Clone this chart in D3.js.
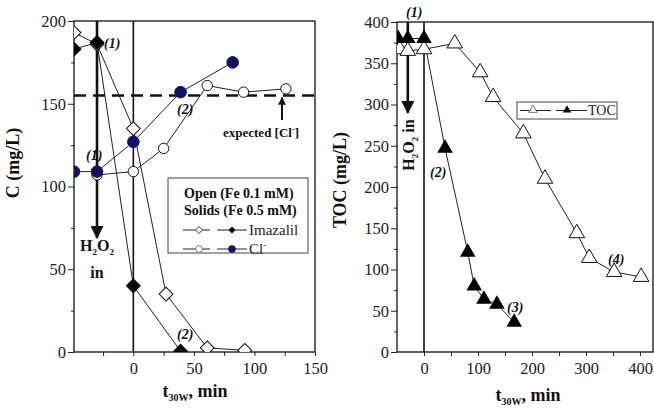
<!DOCTYPE html>
<html>
<head>
<meta charset="utf-8">
<script src="https://cdn.jsdelivr.net/npm/d3@7"></script>
<style>
  body { margin: 0; background: #fff; }
  svg text { font-family: "Liberation Serif", "Times New Roman", serif !important; }
  .tick text { font-size: 16.5px; fill: #222; }
  .data-line { fill: none; stroke: #222; stroke-width: 1; }
  .note { font-size: 14px; font-weight: bold; font-style: italic; fill: #111; }
  .lbl { font-weight: bold; fill: #111; }
</style>
</head>
<body>
<svg id="chart" width="654" height="409"></svg>
<script>
// ---- left panel: imazalil and chloride ----
const openImzT = [-49, -30, 0, 27, 61, 92];
const openImzC = [193, 186, 135, 35, 2.5, 1];
const solidImzT = [-49, -30, 0, 39];
const solidImzC = [183, 187, 40, 0.5];
const openClT = [-30, 0, 25, 61, 91, 126];
const openClC = [107, 109, 123, 161, 157, 159];
const solidClT = [-49, -30, 0, 39, 82];
const solidClC = [109, 109, 127, 157, 175];
const expectedCl = 155;
const leftYTicks = [0, 25, 50, 75, 100, 125, 150, 175, 200];
const leftXTicks = [-25, 0, 25, 50, 75, 100, 125, 150];

// ---- right panel: TOC ----
const openTocT = [-45, -30, 0, 57, 104, 128, 184, 224, 283, 306, 352, 402];
const openTocV = [367, 365, 367, 374, 339, 309, 265, 210, 144, 114, 97, 91];
const solidTocT = [-48, -30, 0, 39, 81, 93, 111, 135, 167];
const solidTocV = [380, 380, 380, 247, 121, 80, 64, 58, 36];
const rightYTicks = d3.range(0, 401, 25);
const rightXTicks = d3.range(50, 401, 50).concat([0]);

const h2o2Time = -30;

const svg = d3.select("#chart");
const defs = svg.append("defs");
defs.append("marker")
  .attr("id", "arrow")
  .attr("viewBox", "0 0 10 10")
  .attr("refX", 9).attr("refY", 5)
  .attr("markerWidth", 5).attr("markerHeight", 5)
  .attr("markerUnits", "strokeWidth")
  .attr("orient", "auto")
  .append("path").attr("d", "M0,0 L10,5 L0,10 Z").attr("fill", "#111");
defs.append("marker")
  .attr("id", "arrowSmall")
  .attr("viewBox", "0 0 10 10")
  .attr("refX", 9).attr("refY", 5)
  .attr("markerWidth", 4).attr("markerHeight", 4)
  .attr("markerUnits", "strokeWidth")
  .attr("orient", "auto")
  .append("path").attr("d", "M0,0 L10,5 L0,10 Z").attr("fill", "#111");

const zip = (t, v) => t.map((d, i) => [d, v[i]]);

const diamond = d3.symbol(d3.symbolSquare, 95);
const triangle = d3.symbol(d3.symbolTriangle, 105);

function panel(id, x, y, yTicks, xTicks, yFmt, xFmt) {
  const [x0, x1] = x.range();
  const [y0, y1] = y.range();
  defs.append("clipPath").attr("id", id)
    .append("rect").attr("x", x0).attr("y", y1).attr("width", x1 - x0).attr("height", y0 - y1);

  const g = svg.append("g");
  const yAxis = g.append("g")
    .attr("transform", `translate(${x0},0)`)
    .call(d3.axisLeft(y).tickValues(yTicks).tickFormat(yFmt).tickSizeOuter(0))
    .attr("font-family", null).attr("font-size", null);
  yAxis.selectAll(".tick line").attr("x2", (d) => (yFmt(d) === "" ? -3 : -6)).attr("stroke", "#222");
  yAxis.selectAll(".tick text").attr("x", -8);
  yAxis.select(".domain").remove();

  const xAxis = g.append("g")
    .attr("transform", `translate(0,${y0})`)
    .call(d3.axisBottom(x).tickValues(xTicks).tickFormat(xFmt).tickSizeOuter(0))
    .attr("font-family", null).attr("font-size", null);
  xAxis.selectAll(".tick line").attr("y2", 4).attr("stroke", "#222");
  xAxis.selectAll(".tick text").attr("y", 10);
  xAxis.select(".domain").remove();

  g.append("rect")
    .attr("x", x0).attr("y", y1).attr("width", x1 - x0).attr("height", y0 - y1)
    .attr("fill", "none").attr("stroke", "#111").attr("stroke-width", 1.3);

  const plot = g.append("g").attr("clip-path", `url(#${id})`);
  return { g, plot };
}

// ================= LEFT =================
const xL = d3.scaleLinear().domain([-49, 150]).range([74, 315]);
const yL = d3.scaleLinear().domain([0, 200]).range([352, 21]);
const left = panel("clipL", xL, yL, leftYTicks, leftXTicks,
  (d) => (d % 50 === 0 ? d : ""), (d) => (d % 50 === 0 ? d : ""));

const lineL = d3.line().x((d) => xL(d[0])).y((d) => yL(d[1]));

// t = 0 line and H2O2 arrow
left.plot.append("line")
  .attr("x1", xL(0)).attr("x2", xL(0)).attr("y1", yL(200)).attr("y2", yL(0))
  .attr("stroke", "#111").attr("stroke-width", 1.6);
left.plot.append("line")
  .attr("x1", xL(h2o2Time)).attr("x2", xL(h2o2Time)).attr("y1", yL(200)).attr("y2", yL(69))
  .attr("stroke", "#111").attr("stroke-width", 2.6).attr("marker-end", "url(#arrow)");

// expected chloride
left.plot.append("line")
  .attr("x1", xL(-49)).attr("x2", xL(150)).attr("y1", yL(expectedCl)).attr("y2", yL(expectedCl))
  .attr("stroke", "#111").attr("stroke-width", 2.4).attr("stroke-dasharray", "12,7");

[zip(openImzT, openImzC), zip(solidImzT, solidImzC), zip(openClT, openClC), zip(solidClT, solidClC)]
  .forEach((s) => left.plot.append("path").attr("class", "data-line").attr("d", lineL(s)));

left.plot.selectAll(".oimz").data(zip(openImzT, openImzC)).join("path")
  .attr("d", diamond).attr("transform", (d) => `translate(${xL(d[0])},${yL(d[1])}) rotate(45)`)
  .attr("fill", "#fff").attr("stroke", "#111").attr("stroke-width", 1);
left.plot.selectAll(".ocl").data(zip(openClT, openClC)).join("circle")
  .attr("cx", (d) => xL(d[0])).attr("cy", (d) => yL(d[1])).attr("r", 5.2)
  .attr("fill", "#fff").attr("stroke", "#111").attr("stroke-width", 1);
left.plot.selectAll(".simz").data(zip(solidImzT, solidImzC)).join("path")
  .attr("d", diamond).attr("transform", (d) => `translate(${xL(d[0])},${yL(d[1])}) rotate(45)`)
  .attr("fill", "#000").attr("stroke", "#000");
left.plot.selectAll(".scl").data(zip(solidClT, solidClC)).join("circle")
  .attr("cx", (d) => xL(d[0])).attr("cy", (d) => yL(d[1])).attr("r", 5.8)
  .attr("fill", "#0d1466").attr("stroke", "#0d1466");

// annotations
left.g.append("text").attr("class", "note").attr("x", 104).attr("y", 48).text("(1)");
left.g.append("text").attr("class", "note").attr("x", 86).attr("y", 160).text("(1)");
left.g.append("text").attr("class", "note").attr("x", 177).attr("y", 114).text("(2)");
left.g.append("text").attr("class", "note").attr("x", 177).attr("y", 339).text("(2)");

const expTxt = left.g.append("text").attr("class", "lbl").attr("x", 223).attr("y", 137).attr("font-size", 13);
expTxt.append("tspan").text("expected [Cl");
expTxt.append("tspan").attr("dy", -5).attr("font-size", 8).text("-");
expTxt.append("tspan").attr("dy", 5).text("]");
left.g.append("line")
  .attr("x1", 282).attr("x2", 282).attr("y1", 120).attr("y2", yL(expectedCl) + 2)
  .attr("stroke", "#111").attr("stroke-width", 2).attr("marker-end", "url(#arrowSmall)");

const h2 = left.g.append("text").attr("class", "lbl").attr("x", 97).attr("y", 251)
  .attr("text-anchor", "middle").attr("font-size", 16);
h2.append("tspan").text("H");
h2.append("tspan").attr("dy", 4).attr("font-size", 9).text("2");
h2.append("tspan").attr("dy", -4).text("O");
h2.append("tspan").attr("dy", 4).attr("font-size", 9).text("2");
left.g.append("text").attr("class", "lbl").attr("x", 97).attr("y", 278)
  .attr("text-anchor", "middle").attr("font-size", 16).text("in");

// legend
const legL = left.g.append("g");
legL.append("rect").attr("x", 168).attr("y", 178).attr("width", 140).attr("height", 75)
  .attr("fill", "#fff").attr("stroke", "#444").attr("stroke-width", 1);
legL.append("text").attr("class", "lbl").attr("x", 184).attr("y", 198).attr("font-size", 14).text("Open (Fe 0.1 mM)");
legL.append("text").attr("class", "lbl").attr("x", 184).attr("y", 215).attr("font-size", 14).text("Solids (Fe 0.5 mM)");
[[230, "imz"], [249, "cl"]].forEach(([ly, kind]) => {
  legL.append("line").attr("x1", 183).attr("x2", 210).attr("y1", ly).attr("y2", ly).attr("stroke", "#222");
  legL.append("line").attr("x1", 217).attr("x2", 247).attr("y1", ly).attr("y2", ly).attr("stroke", "#222");
  if (kind === "imz") {
    legL.append("path").attr("d", d3.symbol(d3.symbolSquare, 24)).attr("transform", `translate(199,${ly}) rotate(45)`)
      .attr("fill", "#fff").attr("stroke", "#777");
    legL.append("path").attr("d", d3.symbol(d3.symbolSquare, 24)).attr("transform", `translate(232,${ly}) rotate(45)`)
      .attr("fill", "#000");
  } else {
    legL.append("circle").attr("cx", 199).attr("cy", ly).attr("r", 3.4).attr("fill", "#fff").attr("stroke", "#777");
    legL.append("circle").attr("cx", 232).attr("cy", ly).attr("r", 3.8).attr("fill", "#0d1466");
  }
});
legL.append("text").attr("x", 249).attr("y", 235).attr("font-size", 15).attr("fill", "#222").text("Imazalil");
const clLeg = legL.append("text").attr("x", 249).attr("y", 254).attr("font-size", 15).attr("fill", "#222");
clLeg.append("tspan").text("Cl");
clLeg.append("tspan").attr("dy", -6).attr("font-size", 9).text("-");

// axis titles
svg.append("text").attr("class", "lbl").attr("font-size", 18)
  .attr("transform", "translate(19,163) rotate(-90)").attr("text-anchor", "middle").text("C (mg/L)");
const xtL = svg.append("text").attr("class", "lbl").attr("font-size", 18).attr("x", 195).attr("y", 397)
  .attr("text-anchor", "middle");
xtL.append("tspan").text("t");
xtL.append("tspan").attr("dy", 4).attr("font-size", 10).text("30W");
xtL.append("tspan").attr("dy", -4).text(", min");

// ================= RIGHT =================
const xR = d3.scaleLinear().domain([-50, 424]).range([397, 653]);
const yR = d3.scaleLinear().domain([0, 400]).range([352, 22]);
const right = panel("clipR", xR, yR, rightYTicks, rightXTicks,
  (d) => (d % 50 === 0 ? d : ""), (d) => (d % 100 === 0 ? d : ""));
const lineR = d3.line().x((d) => xR(d[0])).y((d) => yR(d[1]));

right.plot.append("line")
  .attr("x1", xR(0)).attr("x2", xR(0)).attr("y1", yR(400)).attr("y2", yR(0))
  .attr("stroke", "#111").attr("stroke-width", 1.6);
right.plot.append("line")
  .attr("x1", xR(h2o2Time)).attr("x2", xR(h2o2Time)).attr("y1", yR(400)).attr("y2", yR(290))
  .attr("stroke", "#111").attr("stroke-width", 2.6).attr("marker-end", "url(#arrow)");

[zip(openTocT, openTocV), zip(solidTocT, solidTocV)]
  .forEach((s) => right.plot.append("path").attr("class", "data-line").attr("d", lineR(s)));

right.plot.selectAll(".otoc").data(zip(openTocT, openTocV)).join("path")
  .attr("d", triangle).attr("transform", (d) => `translate(${xR(d[0])},${yR(d[1])})`)
  .attr("fill", "#fff").attr("stroke", "#111").attr("stroke-width", 1);
right.plot.selectAll(".stoc").data(zip(solidTocT, solidTocV)).join("path")
  .attr("d", triangle).attr("transform", (d) => `translate(${xR(d[0])},${yR(d[1])})`)
  .attr("fill", "#000");

right.g.append("text").attr("class", "note").attr("x", 406).attr("y", 17).text("(1)");
right.g.append("text").attr("class", "note").attr("x", 430).attr("y", 177).text("(2)");
right.g.append("text").attr("class", "note").attr("x", 507).attr("y", 312).text("(3)");
right.g.append("text").attr("class", "note").attr("x", 608).attr("y", 264).text("(4)");

const h2r = right.g.append("text").attr("class", "lbl").attr("font-size", 16)
  .attr("transform", "translate(414,145) rotate(-90)").attr("text-anchor", "middle");
h2r.append("tspan").text("H");
h2r.append("tspan").attr("dy", 4).attr("font-size", 9).text("2");
h2r.append("tspan").attr("dy", -4).text("O");
h2r.append("tspan").attr("dy", 4).attr("font-size", 9).text("2");
h2r.append("tspan").attr("dy", -4).text(" in");

const legR = right.g.append("g");
legR.append("rect").attr("x", 517).attr("y", 102).attr("width", 100).attr("height", 17)
  .attr("fill", "#fff").attr("stroke", "#444");
legR.append("line").attr("x1", 520).attr("x2", 551).attr("y1", 110.5).attr("y2", 110.5).attr("stroke", "#222");
legR.append("line").attr("x1", 556).attr("x2", 587).attr("y1", 110.5).attr("y2", 110.5).attr("stroke", "#222");
legR.append("path").attr("d", d3.symbol(d3.symbolTriangle, 30)).attr("transform", "translate(533,110)")
  .attr("fill", "#fff").attr("stroke", "#777");
legR.append("path").attr("d", d3.symbol(d3.symbolTriangle, 30)).attr("transform", "translate(567,110)")
  .attr("fill", "#000");
legR.append("text").attr("x", 588).attr("y", 115).attr("font-size", 14).attr("fill", "#222").text("TOC");

svg.append("text").attr("class", "lbl").attr("font-size", 18)
  .attr("transform", "translate(346,180) rotate(-90)").attr("text-anchor", "middle").text("TOC (mg/L)");
const xtR = svg.append("text").attr("class", "lbl").attr("font-size", 18).attr("x", 528).attr("y", 401)
  .attr("text-anchor", "middle");
xtR.append("tspan").text("t");
xtR.append("tspan").attr("dy", 4).attr("font-size", 10).text("30W");
xtR.append("tspan").attr("dy", -4).text(", min");
</script>
</body>
</html>
